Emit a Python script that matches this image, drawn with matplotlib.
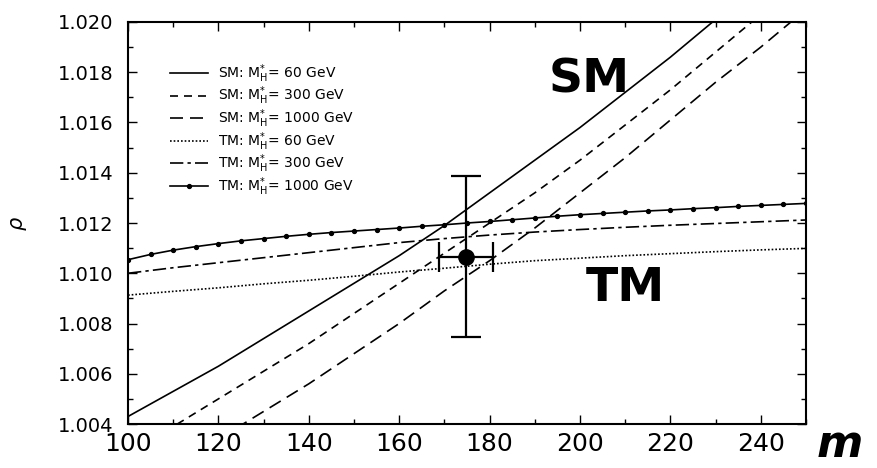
import matplotlib
matplotlib.use("Agg")
import matplotlib.pyplot as plt
from matplotlib.ticker import MultipleLocator, FormatStrFormatter

# top-quark mass grid (GeV)
mt_10 = [100, 110, 120, 130, 140, 150, 160, 170, 180, 190, 200, 210, 220, 230, 240, 250]
mt_5 = [100, 105, 110, 115, 120, 125, 130, 135, 140, 145, 150, 155, 160, 165, 170, 175,
        180, 185, 190, 195, 200, 205, 210, 215, 220, 225, 230, 235, 240, 245, 250]

# SM curves
sm60 = [1.0043, 1.0053, 1.0063, 1.0074, 1.0085, 1.0096, 1.0107, 1.0119, 1.0132, 1.0145,
        1.0158, 1.0172, 1.0186, 1.0201]
sm300 = [1.0029, 1.0039, 1.0050, 1.0061, 1.0072, 1.0084, 1.0096, 1.0108, 1.0120, 1.0132,
         1.0145, 1.0159, 1.0173, 1.0188, 1.0203]
mt_sm1000 = mt_10[2:]
sm1000 = [1.0034, 1.0045, 1.0056, 1.0068, 1.0080, 1.0093, 1.0105, 1.0118, 1.0132, 1.0146,
          1.0161, 1.0176, 1.0190, 1.0205]

# TM curves
tm60 = [1.00913, 1.00928, 1.00942, 1.00958, 1.00972, 1.00988, 1.01005, 1.01020, 1.01036,
        1.01050, 1.01060, 1.01070, 1.01078, 1.01086, 1.01093, 1.01099]
tm300 = [1.01000, 1.01022, 1.01042, 1.01062, 1.01082, 1.01102, 1.01122, 1.01138, 1.01152,
         1.01164, 1.01174, 1.01183, 1.01191, 1.01198, 1.01205, 1.01212]
tm1000 = [1.01054, 1.01075, 1.01092, 1.01106, 1.01118, 1.01129, 1.01138, 1.01147, 1.01155,
          1.01162, 1.01168, 1.01174, 1.01180, 1.01187, 1.01193, 1.01200, 1.01206, 1.01213,
          1.01220, 1.01227, 1.01233, 1.01238, 1.01243, 1.01248, 1.01252, 1.01257, 1.01261,
          1.01266, 1.01270, 1.01274, 1.01278]

# measurement
mt_exp, mt_err = 174.8, 6.0
rho_exp, rho_err = 1.01066, 0.0032

labels = [r"SM: M$_{\rm H}^{*}$= 60 GeV", r"SM: M$_{\rm H}^{*}$= 300 GeV",
          r"SM: M$_{\rm H}^{*}$= 1000 GeV", r"TM: M$_{\rm H}^{*}$= 60 GeV",
          r"TM: M$_{\rm H}^{*}$= 300 GeV", r"TM: M$_{\rm H}^{*}$= 1000 GeV"]

fig = plt.figure(figsize=(8.77, 4.68), dpi=100)
ax = fig.add_axes([0.146, 0.094, 0.773, 0.859])

lw = 1.2
ax.plot(mt_10[:len(sm60)], sm60, color="black", lw=lw, label=labels[0])
ax.plot(mt_10[:len(sm300)], sm300, color="black", lw=lw, dashes=(4.8, 3.6), label=labels[1])
ax.plot(mt_sm1000, sm1000, color="black", lw=lw, dashes=(7.8, 4.2), label=labels[2])
ax.plot(mt_10, tm60, color="black", lw=lw, dashes=(1.0, 1.2), label=labels[3])
ax.plot(mt_10, tm300, color="black", lw=lw, dashes=(8, 2.5, 2, 2.5), label=labels[4])
ax.plot(mt_5, tm1000, color="black", lw=lw, marker="o", markersize=2.8, label=labels[5])

ax.errorbar(mt_exp, rho_exp, xerr=mt_err, yerr=rho_err, fmt="o", color="black",
            markersize=11, elinewidth=1.6, capsize=11, capthick=1.6)

ax.set_xlim(100, 250)
ax.set_ylim(1.004, 1.020)
ax.xaxis.set_major_locator(MultipleLocator(20))
ax.xaxis.set_minor_locator(MultipleLocator(10))
ax.yaxis.set_major_locator(MultipleLocator(0.002))
ax.yaxis.set_minor_locator(MultipleLocator(0.001))
ax.yaxis.set_major_formatter(FormatStrFormatter("%.3f"))
ax.tick_params(which="both", direction="in", top=True, right=True, width=1)
ax.tick_params(which="major", length=6.5)
ax.tick_params(which="minor", length=3.5)
ax.tick_params(axis="y", labelsize=14, pad=10.5)
ax.tick_params(axis="x", labelsize=18, pad=6)
for sp in ax.spines.values():
    sp.set_linewidth(1.5)

ax.set_ylabel(r"$\rho$", fontsize=15)
ax.yaxis.set_label_coords(-0.146, 0.5)

ax.legend(loc="upper left", bbox_to_anchor=(0.062, 0.9), frameon=False, fontsize=10,
          handlelength=2.7, handletextpad=0.75, labelspacing=0.0, borderpad=0,
          borderaxespad=0)

ax.text(202, 1.0177, "SM", fontsize=34, fontweight="heavy", ha="center", va="center")
ax.text(210, 1.0094, "TM", fontsize=34, fontweight="heavy", ha="center", va="center")
fig.text(0.958, 0.05, "m", fontsize=32, fontweight="heavy", fontstyle="italic",
         ha="center", va="center")

fig.savefig("out.png", dpi=100)
